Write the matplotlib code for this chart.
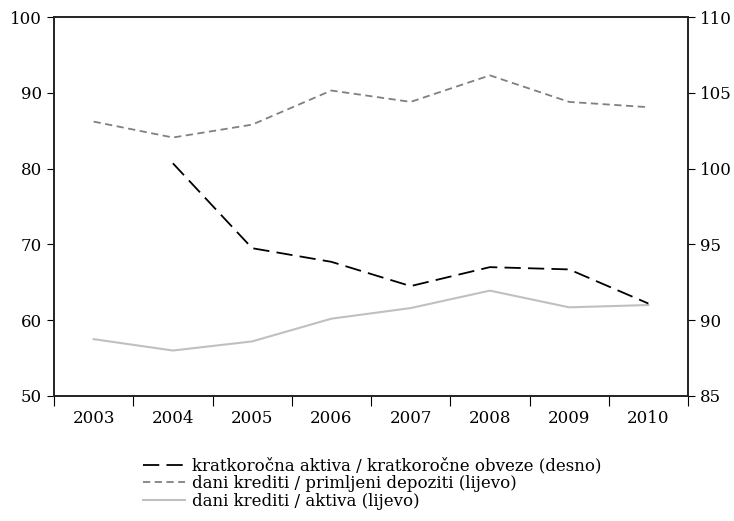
import matplotlib.pyplot as plt
from matplotlib.lines import Line2D

plt.rcParams['font.family'] = ['DejaVu Serif']

years = ['2003', '2004', '2005', '2006', '2007', '2008', '2009', '2010']
kratkorocna = [None, 100.35, 94.75, 93.85, 92.25, 93.5, 93.35, 91.1]
krediti_depoziti = [86.2, 84.1, 85.8, 90.3, 88.8, 92.3, 88.8, 88.1]
krediti_aktiva = [57.5, 56.0, 57.2, 60.2, 61.6, 63.9, 61.7, 62.0]

labels = ['kratkoročna aktiva / kratkoročne obveze (desno)',
          'dani krediti / primljeni depoziti (lijevo)',
          'dani krediti / aktiva (lijevo)']

x = list(range(len(years)))

fig = plt.figure(figsize=(7.34, 5.21), dpi=100)
ax = fig.add_axes([54 / 734, 1 - 396 / 521, 634 / 734, 379 / 521])
ax2 = ax.twinx()

ax.plot(x, krediti_aktiva, color='#c0c0c0', linewidth=1.5)
ax.plot(x, krediti_depoziti, color='#808080', linewidth=1.3, dashes=(4, 2.5))
xs = [i for i, v in zip(x, kratkorocna) if v is not None]
vs = [v for v in kratkorocna if v is not None]
ax2.plot(xs, vs, color='black', linewidth=1.3, dashes=(9, 4))

ax.set_xlim(-0.5, len(years) - 0.5)
ax.set_ylim(50, 100)
ax2.set_ylim(85, 110)
ax.set_yticks(range(50, 101, 10))
ax2.set_yticks(range(85, 111, 5))

ax.set_xticks([i - 0.5 for i in range(len(years) + 1)])
ax.set_xticklabels([])
ax.set_xticks(x, minor=True)
ax.set_xticklabels(years, minor=True)
ax.tick_params(axis='x', which='minor', length=0, pad=10, labelsize=12)
ax.tick_params(axis='x', which='major', length=7, direction='out')
ax.tick_params(axis='y', length=5, labelsize=12)
ax2.tick_params(axis='y', length=5, labelsize=12)

for a in (ax, ax2):
    for s in a.spines.values():
        s.set_linewidth(1.2)
        s.set_color('#222222')

handles = [Line2D([], [], color='black', linewidth=1.3, dashes=(9, 4)),
           Line2D([], [], color='#808080', linewidth=1.3, dashes=(4, 2.5)),
           Line2D([], [], color='#c0c0c0', linewidth=1.5)]
fig.legend(handles, labels, loc='upper left', bbox_to_anchor=(135 / 734, 1 - 449 / 521),
           frameon=False, fontsize=12, handlelength=2.5, labelspacing=0.05,
           handletextpad=0.4, borderpad=0)

fig.savefig('out.png', dpi=100)
